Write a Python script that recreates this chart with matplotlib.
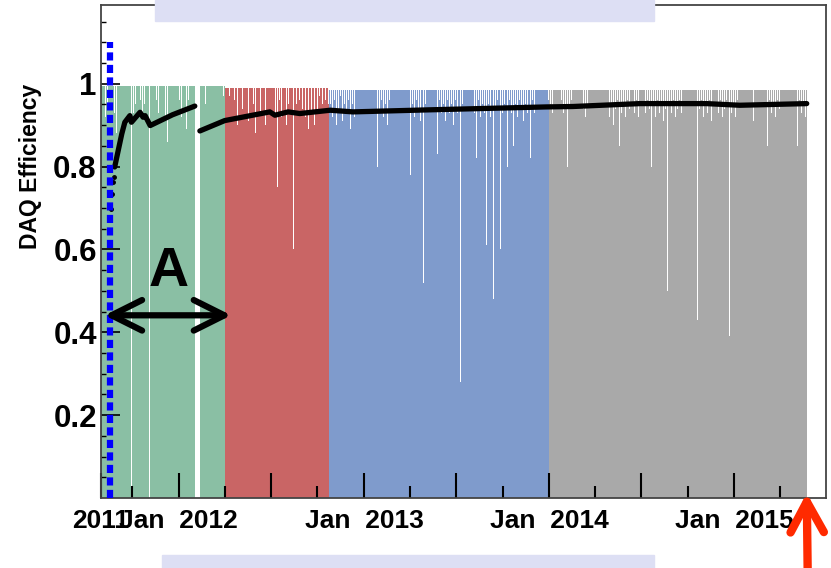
import numpy as np
import pandas as pd
import matplotlib
matplotlib.use("Agg")
import matplotlib.pyplot as plt
import matplotlib.dates as mdates
from matplotlib.patches import Rectangle

plt.rcParams['font.family'] = ['Liberation Sans', 'DejaVu Sans']
plt.rcParams['font.weight'] = 'bold'

# run periods (daily efficiency bars)
period_starts = ['2011-08-01', '2012-04-01', '2012-10-23', '2014-01-01']
period_ends = ['2012-03-31', '2012-10-22', '2013-12-31', '2015-05-24']
period_base = [0.995, 0.99, 0.985, 0.985]
period_colors = ['#8abfa4', '#c96565', '#7f9bcc', '#a9a9a9']

# (day offset from period start, efficiency) for days with lost livetime
green_dips = [(3, 0.96), (8, 0.92), (12, 0.95), (17, 0.9), (21, 0.96), (26, 0.93), (30, 0.88),
              (35, 0.95), (39, 0.92), (43, 0.55), (47, 0.94), (51, 0.9), (55, 0.96), (60, 0.0),
              (64, 0.93), (68, 0.95), (72, 0.89), (77, 0.96), (81, 0.92), (85, 0.95), (90, 0.9),
              (95, 0.0), (96, 0.0), (100, 0.94), (104, 0.91), (109, 0.96), (113, 0.93), (118, 0.88),
              (122, 0.95), (127, 0.92), (131, 0.86), (136, 0.96), (140, 0.93), (145, 0.95), (149, 0.9),
              (154, 0.96), (158, 0.92), (163, 0.95), (168, 0.89), (172, 0.96), (177, 0.93), (181, 0.95),
              (199, 0.97), (206, 0.95), (213, 0.97), (220, 0.96), (228, 0.97), (236, 0.96), (241, 0.97)]
green_gap = ['2012-02-03', '2012-02-12']

red_dips = [(4, 0.95), (9, 0.97), (14, 0.92), (19, 0.96), (25, 0.9), (30, 0.97), (35, 0.94),
            (40, 0.96), (46, 0.91), (51, 0.97), (56, 0.95), (60, 0.88), (65, 0.96), (70, 0.93),
            (75, 0.97), (80, 0.9), (85, 0.95), (91, 0.4), (95, 0.96), (100, 0.93), (104, 0.75),
            (108, 0.96), (112, 0.92), (116, 0.97), (121, 0.9), (125, 0.95), (130, 0.85), (135, 0.6),
            (138, 0.8), (141, 0.95), (144, 0.92), (147, 0.96), (150, 0.9), (153, 0.94), (156, 0.97),
            (159, 0.92), (162, 0.95), (165, 0.89), (168, 0.96), (171, 0.93), (174, 0.95), (177, 0.9),
            (180, 0.96), (183, 0.93), (186, 0.97), (189, 0.91), (192, 0.95), (195, 0.93), (198, 0.96),
            (201, 0.9), (204, 0.95)]

blue_dips = [(3, 0.95), (7, 0.92), (11, 0.96), (15, 0.9), (19, 0.94), (23, 0.97), (27, 0.91),
             (31, 0.95), (35, 0.93), (39, 0.96), (43, 0.89), (47, 0.95), (51, 0.92), (55, 0.96),
             (59, 0.82), (63, 0.94), (67, 0.96), (71, 0.91), (75, 0.95), (79, 0.93), (83, 0.96),
             (87, 0.9), (91, 0.95), (96, 0.8), (100, 0.94), (104, 0.96), (108, 0.92), (112, 0.95),
             (116, 0.9), (120, 0.96), (124, 0.93), (128, 0.95), (132, 0.91), (136, 0.96), (140, 0.93),
             (144, 0.95), (148, 0.9), (152, 0.96), (156, 0.93), (161, 0.78), (165, 0.95), (169, 0.92),
             (173, 0.96), (177, 0.94), (181, 0.91), (187, 0.52), (191, 0.95), (195, 0.8), (199, 0.94),
             (203, 0.96), (207, 0.92), (211, 0.95), (214, 0.83), (218, 0.96), (222, 0.93), (226, 0.95),
             (230, 0.91), (234, 0.96), (238, 0.93), (242, 0.95), (246, 0.9), (250, 0.96), (254, 0.93),
             (260, 0.28), (264, 0.95), (268, 0.92), (272, 0.96), (276, 0.94), (280, 0.91), (284, 0.95),
             (287, 0.93), (291, 0.82), (295, 0.96), (299, 0.92), (303, 0.95), (307, 0.93), (311, 0.61),
             (315, 0.95), (319, 0.92), (322, 0.96), (325, 0.48), (329, 0.94), (333, 0.96), (338, 0.6),
             (342, 0.93), (346, 0.95), (349, 0.91), (352, 0.8), (356, 0.96), (360, 0.93), (364, 0.85),
             (368, 0.95), (372, 0.92), (376, 0.96), (380, 0.94), (384, 0.91), (388, 0.95), (392, 0.93),
             (398, 0.82), (402, 0.96), (406, 0.93), (410, 0.95), (414, 0.91), (418, 0.96), (422, 0.93),
             (426, 0.95), (430, 0.92), (433, 0.96)]

gray_dips = [(2, 0.95), (6, 0.93), (9, 0.96), (13, 0.85), (17, 0.94), (21, 0.92), (24, 0.96),
             (28, 0.93), (32, 0.95), (36, 0.8), (40, 0.94), (44, 0.96), (48, 0.92), (52, 0.95),
             (56, 0.93), (60, 0.9), (64, 0.96), (67, 0.94), (71, 0.92), (75, 0.95), (78, 0.93),
             (82, 0.75), (86, 0.95), (90, 0.92), (94, 0.96), (98, 0.94), (102, 0.91), (106, 0.95),
             (110, 0.93), (114, 0.96), (118, 0.92), (122, 0.95), (126, 0.9), (130, 0.94), (134, 0.96),
             (138, 0.85), (142, 0.93), (146, 0.95), (150, 0.92), (154, 0.96), (158, 0.94), (161, 0.8),
             (165, 0.95), (168, 0.93), (172, 0.96), (176, 0.92), (181, 0.88), (185, 0.95), (189, 0.93),
             (193, 0.96), (197, 0.94), (201, 0.8), (205, 0.95), (209, 0.92), (213, 0.96), (217, 0.93),
             (221, 0.95), (225, 0.91), (229, 0.94), (233, 0.5), (237, 0.95), (241, 0.93), (245, 0.96),
             (249, 0.92), (253, 0.94), (257, 0.96), (260, 0.93), (263, 0.85), (267, 0.95), (271, 0.92),
             (275, 0.96), (279, 0.94), (283, 0.91), (287, 0.95), (292, 0.43), (296, 0.94), (300, 0.96),
             (304, 0.92), (308, 0.95), (312, 0.93), (316, 0.96), (320, 0.91), (325, 0.82), (329, 0.95),
             (333, 0.93), (337, 0.96), (341, 0.92), (345, 0.94), (349, 0.96), (355, 0.39), (359, 0.93),
             (363, 0.95), (367, 0.92), (371, 0.96), (374, 0.94), (378, 0.38), (382, 0.95), (386, 0.92),
             (390, 0.96), (394, 0.93), (398, 0.95), (402, 0.91), (407, 0.8), (411, 0.94), (415, 0.96),
             (419, 0.92), (423, 0.95), (427, 0.93), (430, 0.85), (434, 0.96), (438, 0.93), (442, 0.95),
             (446, 0.92), (450, 0.96), (454, 0.94), (457, 0.8), (461, 0.95), (465, 0.92), (469, 0.96),
             (473, 0.93), (476, 0.41), (480, 0.95), (484, 0.92), (489, 0.85), (493, 0.96), (497, 0.93),
             (501, 0.95), (505, 0.92)]

period_dips = [green_dips, red_dips, blue_dips, gray_dips]

# cumulative DAQ efficiency
cum_first_dates = ['2011-08-19', '2011-08-20', '2011-08-22', '2011-08-25', '2011-08-26']
cum_first_vals = [0.646, 0.698, 0.735, 0.763, 0.776]
cum_a_dates = ['2011-08-28', '2011-09-04', '2011-09-11', '2011-09-17', '2011-09-27', '2011-09-30',
               '2011-10-17', '2011-10-23', '2011-10-27', '2011-11-06', '2011-12-20', '2012-02-02']
cum_a_vals = [0.799, 0.839, 0.879, 0.907, 0.923, 0.907, 0.931, 0.919, 0.923, 0.899, 0.925, 0.946]
cum_b_dates = ['2012-02-12', '2012-04-01', '2012-06-29', '2012-07-09', '2012-08-04', '2012-08-27',
               '2012-10-26', '2012-12-10', '2013-05-11', '2013-09-19', '2013-12-27', '2014-02-17',
               '2014-06-29', '2014-11-07', '2015-01-12', '2015-05-24']
cum_b_vals = [0.886, 0.911, 0.932, 0.924, 0.932, 0.928, 0.936, 0.932, 0.937, 0.941, 0.944, 0.945,
              0.952, 0.952, 0.948, 0.952]

tick_dates = ['2011-08-01', '2012-01-01', '2012-07-01', '2013-01-01', '2013-07-01',
              '2014-01-01', '2014-07-01', '2015-01-01']
tick_labels = ['2011', 'Jan  2012', '', 'Jan  2013', '', 'Jan  2014', '', 'Jan  2015']
minor_dates = ['2011-10-01', '2012-04-01', '2012-10-01', '2013-04-01', '2013-10-01',
               '2014-04-01', '2014-10-01', '2015-04-01']

start_marker = '2011-08-18'
arrow_span = ['2011-08-08', '2012-04-14']


def num(d):
    return mdates.date2num(pd.Timestamp(d))


fig = plt.figure(figsize=(8.31, 5.68), dpi=100)
ax = fig.add_axes([101 / 831, 70 / 568, 725 / 831, 493 / 568])

for i in range(4):
    days = pd.date_range(period_starts[i], period_ends[i], freq='D')
    vals = np.full(len(days), period_base[i])
    for d, v in period_dips[i]:
        vals[d] = v
    if i == 0:
        vals[(days >= green_gap[0]) & (days <= green_gap[1])] = 0.0
    edges = mdates.date2num(days)
    edges = np.append(edges, edges[-1] + 1)
    ax.stairs(vals, edges, fill=True, color=period_colors[i], lw=0, zorder=1)

ax.plot([num(d) for d in cum_first_dates], cum_first_vals, 'o', color='black', ms=2.5, zorder=4)
ax.plot([num(d) for d in cum_a_dates], cum_a_vals, color='black', lw=3.8, solid_capstyle='round', zorder=4)
ax.plot([num(d) for d in cum_b_dates], cum_b_vals, color='black', lw=3.8, solid_capstyle='round', zorder=4)

# start of data taking
ax.plot([num(start_marker)] * 2, [0, 1.1], color='#0000ff', lw=4.5,
        linestyle=(0, (1.3, 0.7)), zorder=5)

# period A
ax.annotate('', xy=(num(arrow_span[0]), 0.441), xytext=(num(arrow_span[1]), 0.441),
            arrowprops=dict(arrowstyle='<->,head_length=1.1,head_width=0.55', lw=4.5,
                            color='black', mutation_scale=20, shrinkA=0, shrinkB=0,
                            capstyle='round', joinstyle='round'), zorder=6)
ax.text(num('2011-12-13'), 0.545, 'A', fontsize=40, ha='center', va='center', zorder=6)

# red arrow at the end of the data
ax.annotate('', xy=(num(period_ends[3]), 0.012), xytext=(807.7 / 831, -0.01),
            textcoords='figure fraction',
            arrowprops=dict(arrowstyle='->,head_length=1.1,head_width=0.6', lw=6,
                            color='#ff2a00', mutation_scale=20, shrinkA=0, shrinkB=0,
                            capstyle='round', joinstyle='round'),
            annotation_clip=False, zorder=7)

ax.set_xlim(num('2011-08-01'), num('2015-07-01'))
ax.set_ylim(0, 1.19)

ax.set_xticks([num(d) for d in tick_dates])
ax.set_xticklabels(tick_labels)
ax.set_xticks([num(d) for d in minor_dates], minor=True)
ax.set_yticks([0.2, 0.4, 0.6, 0.8, 1.0])
ax.set_yticklabels(['0.2', '0.4', '0.6', '0.8', '1'])
ax.set_yticks(np.arange(0.05, 1.19, 0.05), minor=True)

ax.tick_params(axis='x', which='major', direction='in', length=18, width=1.5, pad=8,
               labelsize=19, top=False)
ax.tick_params(axis='x', which='minor', direction='in', length=8.5, width=1.5, top=False)
ax.tick_params(axis='y', which='major', direction='in', length=14, width=1.2, pad=3,
               labelsize=22.5, right=False)
ax.tick_params(axis='y', which='minor', direction='in', length=3.5, width=1.0, right=False)

for s in ax.spines.values():
    s.set_color('#444444')
    s.set_linewidth(1.3)

fig.text(31 / 831, 1 - 166 / 568, 'DAQ Efficiency', rotation=90, fontsize=16.5,
         ha='center', va='center')

# slide banners
fig.patches.append(Rectangle((155 / 831, 1 - 21 / 568), 499 / 831, 21 / 568,
                             transform=fig.transFigure, color='#dddff4', zorder=10))
fig.patches.append(Rectangle((162 / 831, 0), 492 / 831, 13 / 568,
                             transform=fig.transFigure, color='#dddff4', zorder=10))

fig.savefig('out.png', dpi=100)
